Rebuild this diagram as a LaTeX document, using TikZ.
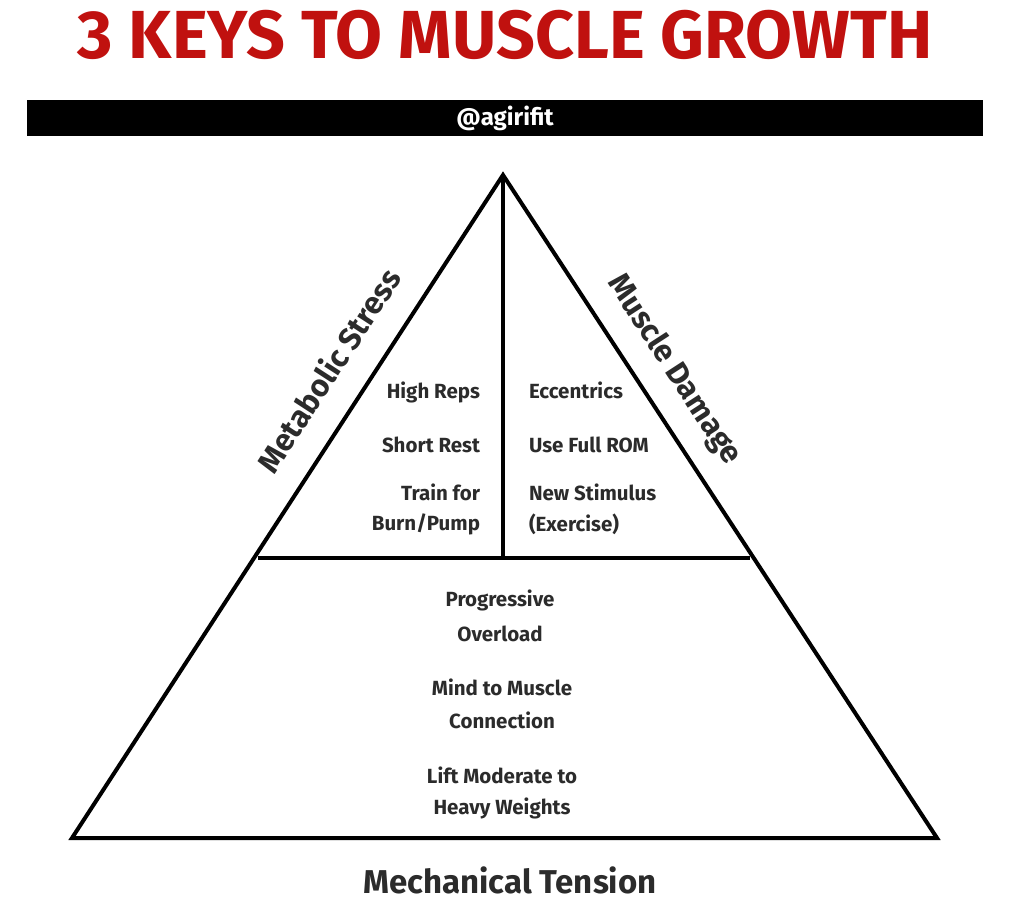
\documentclass[tikz,border=0pt]{standalone}
\usepackage{fontspec}
\setmainfont{Fira Sans}
\definecolor{titlered}{HTML}{C0110F}
\definecolor{ink}{HTML}{2B2B2B}
\begin{document}
\begin{tikzpicture}[x=1pt,y=-1pt,line width=4pt,
  item/.style={font=\bfseries\fontsize{20.5}{20.5}\selectfont,text=ink,inner sep=0pt},
  side/.style={font=\bfseries\fontsize{31}{31}\selectfont,text=ink,inner sep=0pt}]
\useasboundingbox (0,0) rectangle (1011,907);
%title
  \node[font=\bfseries\fontsize{68}{68}\selectfont,text=titlered] (title) at (505,35) {3 KEYS TO MUSCLE GROWTH};
%bar
  \fill (27,100) rectangle (983,136);
  \node[font=\bfseries\fontsize{24}{24}\selectfont,text=white] (tag) at (505,118) {@agirifit};
%pyramid
  \coordinate (apex) at (503,175);
  \coordinate (bl) at (72,838);
  \coordinate (br) at (937,838);
  \coordinate (ml) at (258,558);
  \coordinate (mr) at (750,558);
  \coordinate (mc) at (503,558);
  \draw[line join=miter] (apex) -- (br) -- (bl) -- cycle;
  \draw (ml) -- (mr);
  \draw (apex) -- (mc);
%sides
  \node[side,rotate=57] (meta) at (328,370) {Metabolic Stress};
  \node[side,rotate=-57] (dmg) at (674,370) {Muscle Damage};
%left column
  \node[item,anchor=east] (hr) at (482,392) {High Reps};
  \node[item,anchor=east] (sr) at (482,445) {Short Rest};
  \node[item,anchor=east] (tf) at (482,492) {Train for};
  \node[item,anchor=east] (bp) at (482,524) {Burn/Pump};
%right column
  \node[item,anchor=west] (ec) at (527,390) {Eccentrics};
  \node[item,anchor=west] (rom) at (527,445) {Use Full ROM};
  \node[item,anchor=west] (ns) at (527,492) {New Stimulus};
  \node[item,anchor=west] (ex) at (527,524) {(Exercise)};
%bottom
  \node[item] (po) at (500,600) {Progressive};
  \node[item] (ol) at (500,634) {Overload};
  \node[item] (mm) at (502,687) {Mind to Muscle};
  \node[item] (cn) at (502,720) {Connection};
  \node[item] (lm) at (502,775) {Lift Moderate to};
  \node[item] (hw) at (502,808) {Heavy Weights};
  \node[side,font=\bfseries\fontsize{33}{33}\selectfont] (mt) at (510,880) {Mechanical Tension};
\end{tikzpicture}
\end{document}
